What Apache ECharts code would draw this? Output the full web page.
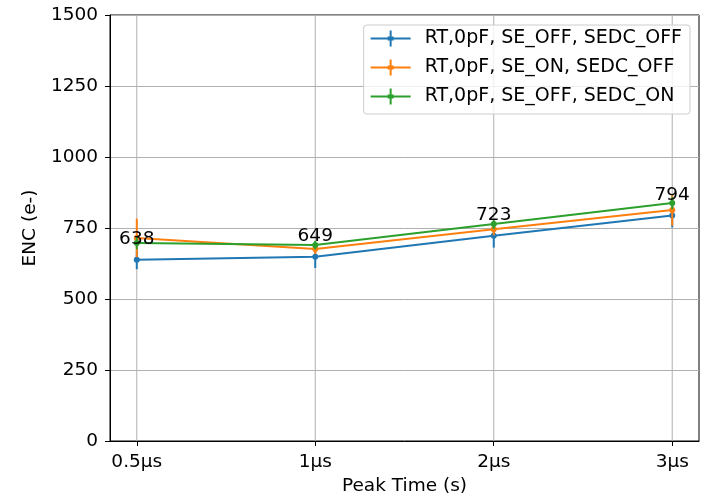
<!DOCTYPE html>
<html>
<head>
<meta charset="utf-8">
<script src="https://cdn.jsdelivr.net/npm/echarts@6/dist/echarts.min.js"></script>
<style>
  html, body { margin: 0; padding: 0; background: #fff; }
  #chart { width: 705px; height: 495px; }
</style>
</head>
<body>
<div id="chart"></div>
<script>
// Peak-time categories (positions 0..3 on the x axis)
const peakTimes = ['0.5µs', '1µs', '2µs', '3µs'];

// ENC means and their error half-widths, in electrons
const seOffSedcOff = [638, 649, 723, 794];
const seOffSedcOffErr = [33, 40, 42, 42];
const seOnSedcOff = [715, 676, 746, 813];
const seOnSedcOffErr = [68, 18, 22, 55];
const seOffSedcOn = [697, 690, 764, 838];
const seOffSedcOnErr = [22, 15, 18, 22];

const yTicks = [0, 250, 500, 750, 1000, 1250, 1500];

const seriesDefs = [
  { name: 'RT,0pF, SE_OFF, SEDC_OFF', color: '#1f77b4', values: seOffSedcOff, errors: seOffSedcOffErr },
  { name: 'RT,0pF, SE_ON, SEDC_OFF', color: '#ff7f0e', values: seOnSedcOff, errors: seOnSedcOffErr },
  { name: 'RT,0pF, SE_OFF, SEDC_ON', color: '#2ca02c', values: seOffSedcOn, errors: seOffSedcOnErr }
];

const FONT = 'DejaVu Sans';
const legendIcon = 'path://M0,7 L40,7 L40,9 L0,9 Z M19,0 L21,0 L21,16 L19,16 Z M17,6 L23,6 L23,10 L17,10 Z';

const series = [];
seriesDefs.forEach((s, k) => {
  const pts = s.values.map((v, i) => [i, v]);
  series.push({
    name: s.name,
    type: 'line',
    data: pts,
    z: 2 + k,
    color: s.color,
    lineStyle: { width: 2, color: s.color },
    symbol: 'circle',
    symbolSize: 6,
    itemStyle: { color: s.color },
    emphasis: { disabled: true },
    animation: false
  });
  series.push({
    name: s.name,
    type: 'custom',
    z: 2 + k,
    data: s.values.map((v, i) => [i, v, s.errors[i]]),
    renderItem: function (params, api) {
      const x = api.value(0), y = api.value(1), e = api.value(2);
      const lo = api.coord([x, y - e]);
      const hi = api.coord([x, y + e]);
      return {
        type: 'line',
        shape: { x1: lo[0], y1: lo[1], x2: hi[0], y2: hi[1] },
        style: { stroke: s.color, lineWidth: 2 }
      };
    },
    animation: false
  });
});

// Value labels for the first configuration
series.push({
  type: 'scatter',
  data: seOffSedcOff.map((v, i) => [i, v]),
  symbolSize: 0,
  z: 10,
  silent: true,
  itemStyle: { opacity: 1 },
  label: {
    show: true,
    position: 'top',
    distance: 11,
    formatter: p => String(p.value[1]),
    color: '#000',
    opacity: 1,
    fontFamily: FONT,
    fontSize: 18.5
  },
  animation: false
});

const option = {
  animation: false,
  backgroundColor: '#fff',
  grid: {
    left: 110, right: 6, top: 15, bottom: 54,
    outerBoundsMode: 'none',
    containLabel: false,
    show: true, borderColor: '#000', borderWidth: 1, backgroundColor: 'transparent'
  },
  legend: {
    data: seriesDefs.map(s => ({ name: s.name, icon: legendIcon, itemStyle: { color: s.color } })),
    orient: 'vertical',
    right: 15,
    top: 25,
    itemWidth: 40,
    itemHeight: 16,
    itemGap: 10,
    padding: [4, 8, 8, 7],
    backgroundColor: 'rgba(255,255,255,0.8)',
    borderColor: '#cccccc',
    borderWidth: 1,
    borderRadius: 3,
    textStyle: { fontFamily: FONT, fontSize: 19, color: '#000', padding: [0, 0, 0, 9] },
    selectedMode: false
  },
  xAxis: {
    type: 'value',
    min: -0.15,
    max: 3.15,
    name: 'Peak Time (s)',
    nameLocation: 'middle',
    nameGap: 30,
    nameTextStyle: { fontFamily: FONT, fontSize: 18.5, color: '#000' },
    axisLine: { show: true, onZero: false, lineStyle: { color: '#000', width: 1 } },
    axisTick: { show: true, customValues: [0, 1, 2, 3], length: 5, lineStyle: { color: '#000' } },
    axisLabel: {
      customValues: [0, 1, 2, 3],
      formatter: v => peakTimes[Math.round(v)],
      fontFamily: FONT, fontSize: 18.5, color: '#000', margin: 12
    },
    splitLine: { show: false }
  },
  yAxis: {
    type: 'value',
    min: 0,
    max: 1500,
    interval: 250,
    name: 'ENC (e-)',
    nameLocation: 'middle',
    nameGap: 62,
    nameTextStyle: { fontFamily: FONT, fontSize: 18.5, color: '#000' },
    axisLine: { show: true, onZero: false, lineStyle: { color: '#000', width: 1 } },
    axisTick: { show: true, length: 5, lineStyle: { color: '#000' } },
    axisLabel: {
      formatter: v => (yTicks.indexOf(v) >= 0 ? String(v) : ''),
      fontFamily: FONT, fontSize: 18.5, color: '#000', margin: 12
    },
    splitLine: { show: true, lineStyle: { color: '#b0b0b0', width: 1 } }
  },
  series: series.concat([{
    // vertical grid lines at each peak time
    type: 'custom',
    z: 1,
    silent: true,
    data: peakTimes.map((t, i) => [i]),
    renderItem: function (params, api) {
      const top = api.coord([api.value(0), 1500]);
      const bot = api.coord([api.value(0), 0]);
      return {
        type: 'line',
        shape: { x1: top[0], y1: top[1], x2: bot[0], y2: bot[1] },
        style: { stroke: '#b0b0b0', lineWidth: 1 }
      };
    },
    animation: false
  }])
};

const chart = echarts.init(document.getElementById('chart'), null, { renderer: 'canvas' });
chart.setOption(option);
</script>
</body>
</html>
